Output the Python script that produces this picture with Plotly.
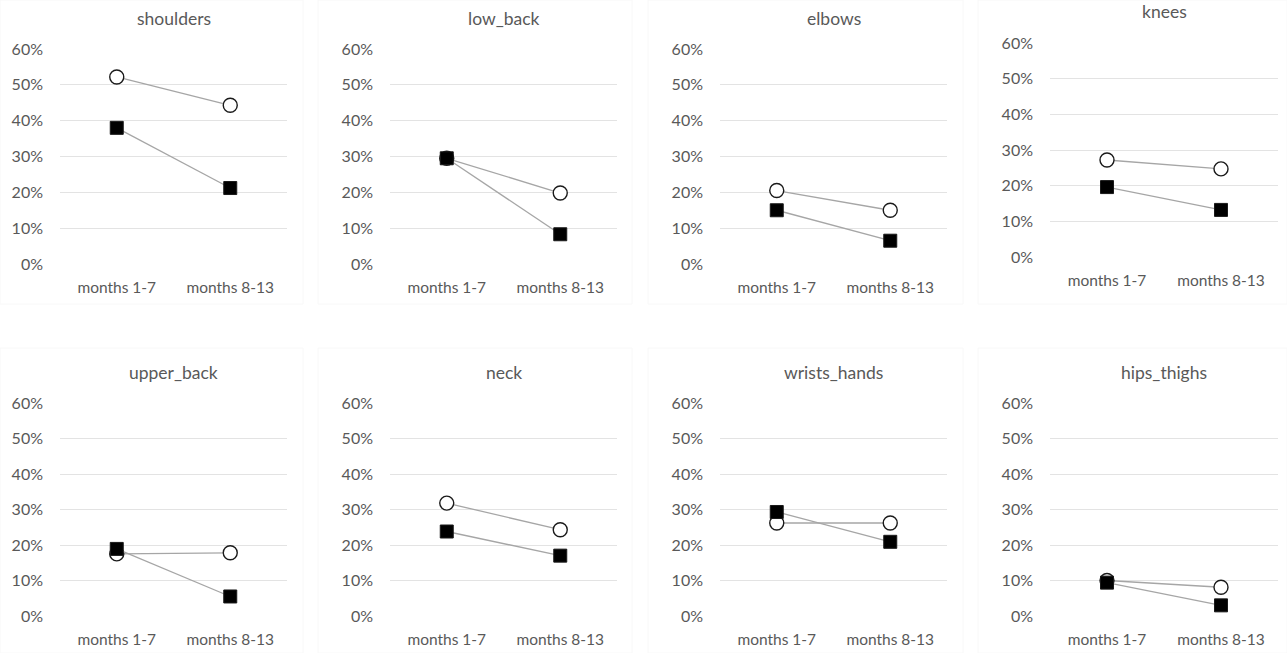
import plotly.graph_objects as go

# Prevalence of complaints by body region, two periods
periods = ["months 1-7", "months 8-13"]
regions = ["shoulders", "low_back", "elbows", "knees",
           "upper_back", "neck", "wrists_hands", "hips_thighs"]

open_series = {
    "shoulders":    [0.522, 0.443],
    "low_back":     [0.295, 0.198],
    "elbows":       [0.205, 0.150],
    "knees":        [0.272, 0.247],
    "upper_back":   [0.175, 0.178],
    "neck":         [0.318, 0.243],
    "wrists_hands": [0.262, 0.262],
    "hips_thighs":  [0.100, 0.081],
}
filled_series = {
    "shoulders":    [0.380, 0.212],
    "low_back":     [0.295, 0.083],
    "elbows":       [0.150, 0.065],
    "knees":        [0.196, 0.132],
    "upper_back":   [0.189, 0.055],
    "neck":         [0.238, 0.170],
    "wrists_hands": [0.293, 0.209],
    "hips_thighs":  [0.094, 0.030],
}
y_ticks = [0, 0.1, 0.2, 0.3, 0.4, 0.5, 0.6]
y_tick_text = ["0%", "10%", "20%", "30%", "40%", "50%", "60%"]

W, H = 1287, 653
# plot-area pixel boxes (left, right, top, bottom)
col_x = [(60, 287), (390, 617), (720, 947), (1050, 1278)]
row_y = [(49, 264), (403, 616)]
title_y = [18, 372]
label_color = "#595959"
font_family = "Lato, 'Liberation Sans', sans-serif"

fig = go.Figure()
annotations = []
shapes = []

for i, name in enumerate(regions):
    r, c = divmod(i, 4)
    x0, x1 = col_x[c]
    top, bot = row_y[r]
    if name == "knees":
        top, bot = 43, 257
    ax = "" if i == 0 else str(i + 1)
    xa, ya = "x" + ax, "y" + ax

    fig.add_trace(go.Scatter(
        x=periods, y=open_series[name], xaxis=xa, yaxis=ya,
        mode="lines+markers", showlegend=False, cliponaxis=False,
        line=dict(color="#a6a6a6", width=1.3),
        marker=dict(symbol="circle", size=14, color="white",
                    line=dict(color="#1a1a1a", width=1.4)),
    ))
    fig.add_trace(go.Scatter(
        x=periods, y=filled_series[name], xaxis=xa, yaxis=ya,
        mode="lines+markers", showlegend=False, cliponaxis=False,
        line=dict(color="#a6a6a6", width=1.3),
        marker=dict(symbol="square", size=13, color="black",
                    line=dict(color="#1a1a1a", width=1)),
    ))

    xdom = [x0 / W, x1 / W]
    ydom = [1 - bot / H, 1 - top / H]
    fig.layout["xaxis" + ax] = dict(
        domain=xdom, anchor=ya, type="category", range=[-0.5, 1.5],
        showgrid=False, zeroline=False, showline=False, ticks="",
        ticklabelstandoff=12, automargin=False,
        tickfont=dict(size=15.5, color=label_color, family=font_family),
        fixedrange=True,
    )
    fig.layout["yaxis" + ax] = dict(
        domain=ydom, anchor=xa, range=[0, 0.6],
        tickvals=y_ticks, ticktext=y_tick_text,
        showgrid=True, gridcolor="#e3e3e3", gridwidth=1,
        zeroline=False, showline=False, ticks="", ticklabelstandoff=16,
        automargin=False,
        tickfont=dict(size=16, color=label_color, family=font_family),
        fixedrange=True,
    )
    t_y = title_y[r] - (6 if name == "knees" else 0)
    annotations.append(dict(
        text=name, x=(x0 + x1) / 2 / W, y=1 - t_y / H,
        xref="paper", yref="paper", xanchor="center", yanchor="middle",
        showarrow=False,
        font=dict(size=17.5, color=label_color, family=font_family),
    ))

# faint chart-area borders
for (bx0, bx1) in [(0, 303), (318, 632), (648, 963), (978, 1287)]:
    for (by0, by1) in [(0, 304), (348, 653)]:
        shapes.append(dict(
            type="rect", xref="paper", yref="paper",
            x0=bx0 / W, x1=bx1 / W, y0=1 - by1 / H, y1=1 - by0 / H,
            line=dict(color="#f8f8f8", width=1), layer="below",
        ))

fig.update_layout(
    width=W, height=H,
    margin=dict(l=0, r=0, t=0, b=0, pad=0, autoexpand=False),
    paper_bgcolor="white", plot_bgcolor="white",
    annotations=annotations, shapes=shapes,
    font=dict(family=font_family, color=label_color),
)

fig.write_html("out.html")
